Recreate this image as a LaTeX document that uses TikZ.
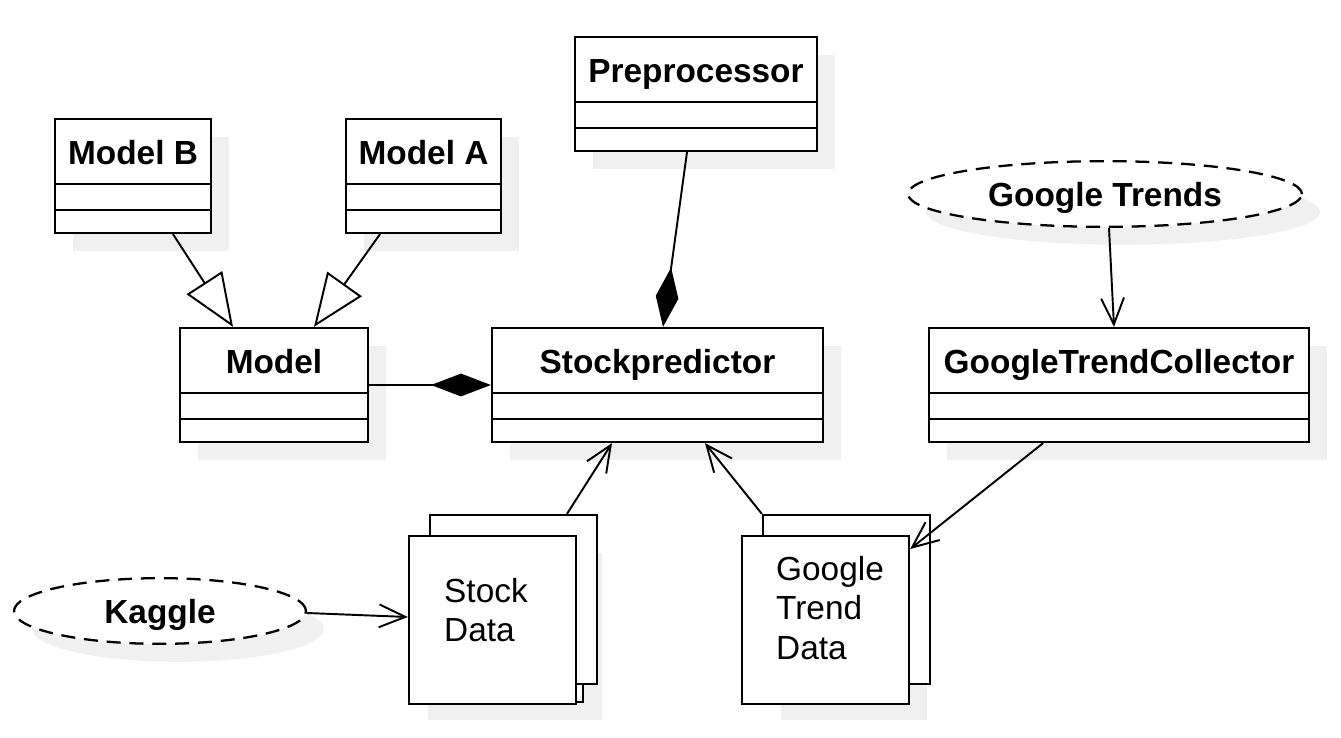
\documentclass[tikz,border=0pt]{standalone}
\usepackage{fontspec}
\setmainfont{Liberation Sans}
\usetikzlibrary{positioning,fit,shapes.geometric,shadows,arrows.meta}

\tikzset{
  castshadow/.style={drop shadow={shadow xshift=0.36cm, shadow yshift=-0.36cm, fill=black!6, opacity=1}},
  classbox/.style={draw, line width=1.3pt, fill=white, inner sep=0pt, castshadow},
  classtitle/.style={font=\bfseries, inner sep=0pt, anchor=base},
  usecase/.style={ellipse, draw, dash pattern=on 8pt off 5pt, line width=1.3pt, fill=white,
    castshadow, font=\bfseries, text depth=0pt, minimum height=1.2cm},
  docpage/.style={draw, line width=1.3pt, fill=white, inner sep=0pt},
  doctext/.style={align=left, inner sep=0pt},
  link/.style={line width=1.1pt},
  inherit/.style={link, -{Triangle[open, length=30pt, width=24pt, fill=white]}},
  owns/.style={link, -{Diamond[length=34pt, width=13pt]}},
  uses/.style={link, -{Straight Barb[length=15pt, width=13pt]}},
}

% class box: name, left, top, right, title
\newcommand{\umlclass}[5]{%
  \node[classbox, fit={(#2,#3) (#4,#3+114)}] (#1) {};
  \node[classtitle] (#1-title) at ({(#2+#4)/2},#3+45) {#5};
  \draw[line width=1.3pt] (#2,#3+65) -- (#4,#3+65) (#2,#3+91) -- (#4,#3+91);
}

\begin{document}
\begin{tikzpicture}[x=0.02cm, y=-0.02cm]
  \fontsize{19}{22.3}\selectfont
  \useasboundingbox (0,0) rectangle (1341,737);

  % classes
  \umlclass{modelB}{55}{119}{211}{Model B}
  \umlclass{modelA}{346}{119}{501}{Model A}
  \umlclass{preproc}{575}{37}{817}{Preprocessor}
  \umlclass{model}{180}{328}{368}{Model}
  \umlclass{predictor}{492}{328}{823}{Stockpredictor}
  \umlclass{collector}{929}{328}{1309}{GoogleTrendCollector}

  % sources
  \node[usecase, minimum width=7.88cm] (trends) at (1105,194) {Google Trends};
  \node[usecase, minimum width=5.84cm] (kaggle) at (160,611) {Kaggle};

  % data files
  \fill[black!6] (428,553) rectangle (602,720);
  \fill[black!6] (781,553) rectangle (927,720);
  \node[docpage, fit={(420,540) (583,702)}] (stockmid) {};
  \node[docpage, fit={(430,515) (597,684)}] (stockback) {};
  \node[docpage, fit={(409,536) (576,704)}] (stockdata) {};
  \node[doctext, right=0.72cm of stockdata.west, yshift=0.2cm] (stocklabel) {Stock\\Data};
  \node[docpage, fit={(763,515) (930,684)}] (trendback) {};
  \node[docpage, fit={(742,536) (909,704)}] (trenddata) {};
  \node[doctext, right=0.7cm of trenddata.west, yshift=0.24cm] (trendlabel) {Google\\Trend\\Data};

  % relations
  \draw[inherit] ([xshift=0.8cm]modelB.south) -- ([xshift=-0.82cm]model.north);
  \draw[inherit] ([xshift=-0.87cm]modelA.south) -- ([xshift=0.8cm]model.north);
  \draw[owns] (model.east) -- (predictor.west);
  \draw[owns] ([xshift=-0.18cm]preproc.south) -- ([xshift=0.11cm]predictor.north);
  \draw[uses] ([xshift=0.08cm]trends.south) -- ([xshift=-0.1cm]collector.north);
  \draw[uses] ([xshift=-1.52cm]collector.south) -- ([yshift=1.42cm]trenddata.east);
  \draw[uses] ([xshift=1.07cm]stockback.north) -- ([xshift=-0.91cm]predictor.south);
  \draw[uses] (trendback.north west) -- ([xshift=0.95cm]predictor.south);
  \draw[uses] ([yshift=-0.04cm]kaggle.east) -- ([yshift=0.06cm]stockdata.west);
\end{tikzpicture}
\end{document}
